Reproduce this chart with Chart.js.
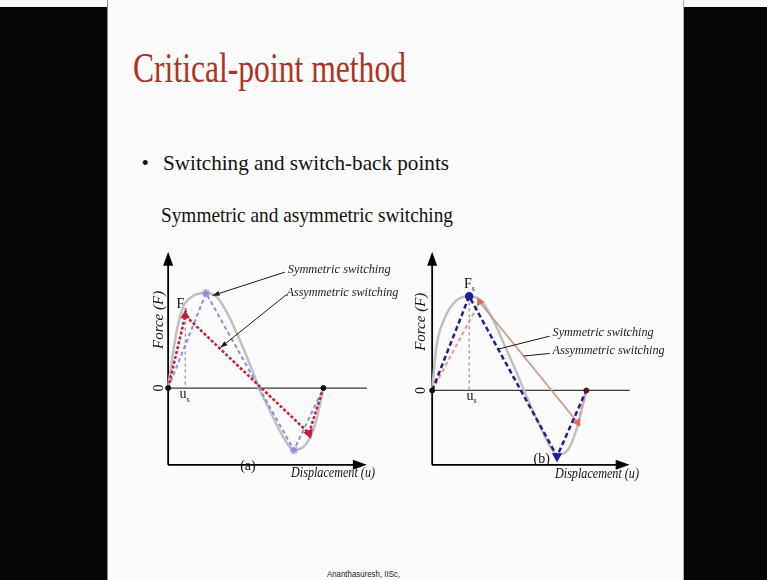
<!DOCTYPE html>
<html>
<head>
<meta charset="utf-8">
<title>Critical-point method</title>
<script src="https://cdn.jsdelivr.net/npm/chart.js@4.4.1/dist/chart.umd.min.js"></script>
<style>
  html, body { margin: 0; padding: 0; }
  body { width: 767px; height: 580px; position: relative; overflow: hidden; background: #050505; }
  .strip { position: absolute; left: 0; top: 0; width: 767px; height: 7px; background: #fafafa; }
  .slide { position: absolute; left: 107px; top: 0; width: 577px; height: 580px; background: #fbfbfb;
           border-left: 1px solid #8a8a8a; border-right: 1px solid #b0b0b0; box-sizing: border-box; }
  .txt { position: absolute; white-space: nowrap; line-height: 1; transform-origin: 0 0; }
  .title { font-family: "Liberation Serif", serif; font-size: 42px; color: #ad3424; }
  .body { font-family: "Liberation Serif", serif; font-size: 21px; color: #111; }
  .foot { font-family: "Liberation Sans", Arial, sans-serif; font-size: 9px; color: #222; }
  canvas { position: absolute; }
</style>
</head>
<body>
<div class="strip"></div>
<div class="slide"></div>

<div class="txt title" id="title" style="left:132.7px; top:46.5px;">Critical-point method</div>
<div class="txt body" style="left:141.5px; top:153.4px;">&bull;</div>
<div class="txt body" id="line1" style="left:163px; top:153.4px;">Switching and switch-back points</div>
<div class="txt body" id="line2" style="left:161px; top:204.7px;">Symmetric and asymmetric switching</div>
<div class="txt foot" id="foot" style="left:326.7px; top:570.4px;">Ananthasuresh, IISc,</div>

<canvas id="panelA" width="280" height="250" style="left:140px; top:240px;"></canvas>
<canvas id="panelB" width="275" height="250" style="left:405px; top:240px;"></canvas>

<script>
// Force-displacement curves, u normalised to the end point, F to the peak force.
// Panel (a)
const curveA_u = [0, 0.03, 0.058, 0.099, 0.161, 0.244, 0.317, 0.389, 0.472, 0.555, 0.585, 0.658, 0.741, 0.81, 0.886, 0.948, 1];
const curveA_F = [0, 0.36, 0.63, 0.87, 0.98, 1.01, 0.96, 0.77, 0.47, 0.13, 0, -0.25, -0.52, -0.66, -0.6, -0.38, 0];
const symA_u = [0, 0.244, 0.81, 1];
const symA_F = [0, 1.01, -0.66, 0];
const asymA_u = [0, 0.11, 0.907, 1];
const asymA_F = [0, 0.77, -0.48, 0];

// Panel (b)
const curveB_u = [0, 0.027, 0.079, 0.142, 0.225, 0.308, 0.392, 0.475, 0.558, 0.6, 0.683, 0.767, 0.81, 0.871, 0.933, 1];
const curveB_F = [0, 0.46, 0.76, 0.93, 1.0, 0.97, 0.76, 0.46, 0.15, -0.02, -0.32, -0.6, -0.68, -0.65, -0.43, 0];
const symB_u = [0, 0.24, 0.81, 1];
const symB_F = [0, 1.0, -0.7, 0];
const asymB_u = [0, 0.308, 0.944, 1];
const asymB_F = [0, 0.94, -0.34, 0];

const seriesNames = ['Symmetric switching', 'Assymmetric switching'];
const axisTitles = { x: 'Displacement (u)', y: 'Force (F)' };

// placement of each panel on the page (origin pixel + pixels per unit)
const geomA = { left: 140, top: 240, width: 280, height: 250, ox: 164, oy: 389, sx: 161, sy: 98,
                yBottom: -0.816, yTop: 1.449, xTip: 1.28 };
const geomB = { left: 405, top: 240, width: 275, height: 250, ox: 428, oy: 391.5, sx: 160, sy: 98,
                yBottom: -0.791, yTop: 1.474, xTip: 1.281 };

const pts = (us, fs) => us.map((u, i) => ({ x: u, y: fs[i] }));
const ends = (us, fs) => [{ x: us[0], y: fs[0] }, { x: us[us.length - 1], y: fs[fs.length - 1] }];

function line(ctx, x1, y1, x2, y2) {
  ctx.beginPath();
  ctx.moveTo(x1, y1);
  ctx.lineTo(x2, y2);
  ctx.stroke();
}

function arrowHead(ctx, x1, y1, x2, y2, len, half) {
  const a = Math.atan2(y2 - y1, x2 - x1);
  ctx.beginPath();
  ctx.moveTo(x2, y2);
  ctx.lineTo(x2 - len * Math.cos(a) + half * Math.sin(a), y2 - len * Math.sin(a) - half * Math.cos(a));
  ctx.lineTo(x2 - len * Math.cos(a) - half * Math.sin(a), y2 - len * Math.sin(a) + half * Math.cos(a));
  ctx.closePath();
  ctx.fill();
}

const panelDecor = {
  id: 'panelDecor',
  beforeDatasetsDraw(chart, args, opts) {
    const { ctx, scales: { x, y } } = chart;
    const g = opts.geom;
    const X = v => x.getPixelForValue(v), Y = v => y.getPixelForValue(v);
    ctx.save();
    ctx.strokeStyle = '#3c3c3c';
    ctx.lineWidth = 1.2;
    line(ctx, X(0), Y(0), X(g.xTip), Y(0));

    ctx.strokeStyle = '#000';
    ctx.fillStyle = '#000';
    ctx.lineWidth = 1.8;
    line(ctx, X(0), Y(g.yBottom), X(0), Y(g.yTop) + 10);
    line(ctx, X(0), Y(g.yBottom), X(g.xTip) - 10, Y(g.yBottom));
    arrowHead(ctx, X(0), Y(g.yBottom), X(0), Y(g.yTop), 14, 5);
    arrowHead(ctx, X(0), Y(g.yBottom), X(g.xTip), Y(g.yBottom), 14, 5);
    ctx.restore();
  },
  afterDatasetsDraw(chart, args, opts) {
    const { ctx, scales: { x, y } } = chart;
    const X = v => x.getPixelForValue(v), Y = v => y.getPixelForValue(v);
    ctx.save();

    // leader lines to the curves
    opts.notes.forEach(n => {
      ctx.strokeStyle = '#1a1a1a';
      ctx.fillStyle = '#1a1a1a';
      ctx.lineWidth = 1;
      line(ctx, X(n.from[0]), Y(n.from[1]), X(n.to[0]), Y(n.to[1]));
      if (n.arrow) arrowHead(ctx, X(n.from[0]), Y(n.from[1]), X(n.to[0]), Y(n.to[1]), 7, 2.5);
      ctx.font = 'italic 13px "Liberation Serif"';
      ctx.textAlign = 'left';
      ctx.textBaseline = 'middle';
      ctx.fillStyle = '#222';
      ctx.fillText(n.text, X(n.at[0]), Y(n.at[1]), n.maxW);
    });

    // axis titles, point labels
    opts.labels.forEach(l => {
      ctx.save();
      ctx.translate(X(l.at[0]), Y(l.at[1]));
      if (l.rotate) ctx.rotate(-Math.PI / 2);
      ctx.fillStyle = '#111';
      ctx.font = (l.italic ? 'italic ' : '') + (l.size || 14) + 'px "Liberation Serif"';
      ctx.textAlign = 'center';
      ctx.textBaseline = 'middle';
      ctx.fillText(l.text, 0, 0, l.maxW);
      if (l.sub) {
        const w = ctx.measureText(l.text).width;
        ctx.font = '8px "Liberation Serif"';
        ctx.textAlign = 'left';
        ctx.fillText(l.sub, w / 2, 5);
      }
      ctx.restore();
    });
    ctx.restore();
  }
};

function makePanel(id, g, datasets, notes, labels) {
  return new Chart(document.getElementById(id), {
    type: 'scatter',
    data: { datasets },
    options: {
      responsive: false,
      animation: false,
      events: [],
      layout: { padding: 0 },
      plugins: {
        legend: { display: false },
        tooltip: { enabled: false },
        panelDecor: { geom: g, notes, labels }
      },
      scales: {
        x: { type: 'linear', display: false,
             min: (g.left - g.ox) / g.sx, max: (g.left + g.width - g.ox) / g.sx },
        y: { type: 'linear', display: false,
             min: (g.oy - g.top - g.height) / g.sy, max: (g.oy - g.top) / g.sy }
      }
    },
    plugins: [panelDecor]
  });
}

const grey = { showLine: true, borderColor: '#c0c0c0', borderWidth: 2.5, pointRadius: 0,
               cubicInterpolationMode: 'monotone', order: 10 };
const guide = { showLine: true, borderColor: '#77778a', borderWidth: 1, borderDash: [3, 3], pointRadius: 0, order: 8 };

makePanel('panelA', geomA, [
  { ...grey, data: pts(curveA_u, curveA_F) },
  { ...guide, data: [{ x: asymA_u[1], y: asymA_F[1] }, { x: asymA_u[1], y: 0 }] },
  { label: seriesNames[0], data: pts(symA_u, symA_F), showLine: true,
    borderColor: '#8e8ede', borderWidth: 2, borderDash: [4, 3],
    pointStyle: 'star', pointRadius: [0, 4, 4, 0], pointBorderColor: '#8e8ede', pointBorderWidth: 1.5, order: 3 },
  { label: seriesNames[1], data: pts(asymA_u, asymA_F), showLine: true,
    borderColor: '#c21f3c', borderWidth: 2.5, borderDash: [3, 2],
    pointStyle: 'triangle', pointRadius: [0, 3, 3.5, 0], pointRotation: [0, 0, 160, 0],
    pointBackgroundColor: '#c21f3c', pointBorderColor: '#c21f3c', order: 2 },
  { data: ends(curveA_u, curveA_F), showLine: false, pointRadius: 2.5,
    pointBackgroundColor: '#111', pointBorderColor: '#111', order: 0 }
], [
  { text: seriesNames[0], at: [0.77, 1.255], from: [0.752, 1.232], to: [0.286, 0.983], arrow: true, maxW: 103 },
  { text: seriesNames[1], at: [0.762, 1.017], from: [0.762, 0.993], to: [0.337, 0.43], arrow: true, maxW: 112 }
], [
  { text: 'F', sub: 's', at: [0.079, 0.888] },
  { text: 'u', sub: 's', at: [0.095, -0.07] },
  { text: '(a)', at: [0.514, -0.827] },
  { text: axisTitles.x, at: [1.062, -0.911], italic: true, maxW: 84 },
  { text: axisTitles.y, at: [-0.056, 0.724], italic: true, rotate: true, size: 15 },
  { text: '0', at: [-0.056, 0], rotate: true }
]);

makePanel('panelB', geomB, [
  { ...grey, data: pts(curveB_u, curveB_F) },
  { ...guide, data: [{ x: symB_u[1], y: symB_F[1] }, { x: symB_u[1], y: 0 }] },
  { label: seriesNames[1], data: pts(asymB_u, asymB_F), showLine: true,
    borderColor: '#f0978a', borderWidth: 2, borderDash: [4, 3],
    segment: {
      borderDash: c => c.p0DataIndex === 1 ? [] : [4, 3],
      borderColor: c => c.p0DataIndex === 1 ? '#cc9686' : '#ef958a',
      borderWidth: c => c.p0DataIndex === 1 ? 1.7 : 2
    },
    pointStyle: 'triangle', pointRadius: [0, 3, 3, 0], pointRotation: [0, -30, 150, 0],
    pointBackgroundColor: '#e2685f', pointBorderColor: '#e2685f', order: 2 },
  { label: seriesNames[0], data: pts(symB_u, symB_F), showLine: true,
    borderColor: '#20208f', borderWidth: 2.5, borderDash: [5, 3],
    pointStyle: ['circle', 'circle', 'triangle', 'circle'], pointRadius: [0, 3, 3.5, 0], pointRotation: [0, 0, 180, 0],
    pointBackgroundColor: '#20208f', pointBorderColor: '#20208f', order: 1 },
  { data: ends(curveB_u, curveB_F), showLine: false, pointRadius: 2.5,
    pointBackgroundColor: ['#111', '#5a1520'], pointBorderColor: ['#111', '#5a1520'], order: 0 }
], [
  { text: seriesNames[0], at: [0.781, 0.61], from: [0.7625, 0.577], to: [0.43, 0.44], maxW: 101 },
  { text: seriesNames[1], at: [0.781, 0.423], from: [0.7625, 0.393], to: [0.594, 0.366], maxW: 112 }
], [
  { text: 'F', sub: 's', at: [0.231, 1.131] },
  { text: 'u', sub: 's', at: [0.245, -0.06] },
  { text: '(b)', at: [0.711, -0.727] },
  { text: axisTitles.x, at: [1.069, -0.896], italic: true, maxW: 84 },
  { text: axisTitles.y, at: [-0.071, 0.73], italic: true, rotate: true, size: 15 },
  { text: '0', at: [-0.071, 0], rotate: true }
]);

// slide text is horizontally squeezed; stretch each line to its measured width
function fitWidth(id, width) {
  const el = document.getElementById(id);
  const natural = el.getBoundingClientRect().width;
  el.style.transform = 'scaleX(' + (width / natural) + ')';
}
fitWidth('title', 273);
fitWidth('line1', 286);
fitWidth('line2', 292);
fitWidth('foot', 73);
</script>
</body>
</html>
